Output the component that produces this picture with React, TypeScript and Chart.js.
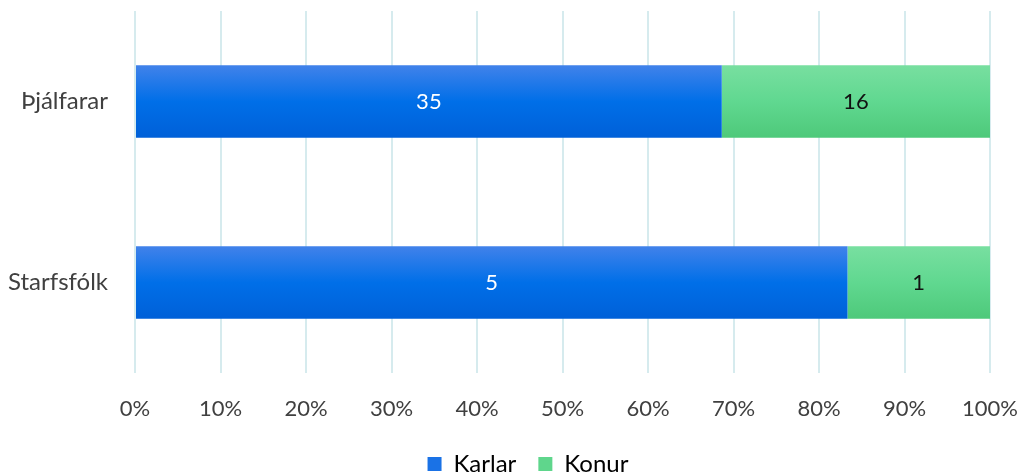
import React, { useEffect, useRef } from "react";
import { Chart, registerables } from "chart.js";

Chart.register(...registerables);

const categories = ["Þjálfarar", "Starfsfólk"];
const karlar = [35, 5];
const konur = [16, 1];
const tickLabels = ["0%", "10%", "20%", "30%", "40%", "50%", "60%", "70%", "80%", "90%", "100%"];

const FONT = "Lato, 'Open Sans', sans-serif";
const TEXT = "#404040";
const BAR_PCT = 0.4;

const totals = karlar.map((k, i) => k + konur[i]);
const karlarPct = karlar.map((k, i) => (k / totals[i]) * 100);
const konurPct = konur.map((k, i) => (k / totals[i]) * 100);

function gradientFor(stops: string[]) {
  return (ctx: any) => {
    const chart = ctx.chart;
    const area = chart.chartArea;
    const y = chart.scales && chart.scales.y;
    if (!area || !y) return stops[1];
    const center = y.getPixelForValue(ctx.dataIndex);
    const half = ((area.bottom - area.top) / categories.length) * BAR_PCT / 2;
    const g = chart.ctx.createLinearGradient(0, center - half, 0, center + half);
    g.addColorStop(0, stops[0]);
    g.addColorStop(0.5, stops[1]);
    g.addColorStop(1, stops[2]);
    return g;
  };
}

const labelPlugin = {
  id: "barLabels",
  afterLayout(chart: any) {
    const L = chart.legend;
    if (L) {
      const dy = 430 - L.top;
      L.top += dy;
      L.bottom += dy;
      L.left += 33;
      L.right += 33;
    }
  },
  afterDatasetsDraw(chart: any) {
    const { ctx } = chart;
    const raw = [karlar, konur];
    const colors = ["#ffffff", "#111111"];
    ctx.save();
    ctx.font = `22px ${FONT}`;
    ctx.textAlign = "center";
    ctx.textBaseline = "middle";
    chart.data.datasets.forEach((_ds: any, di: number) => {
      const meta = chart.getDatasetMeta(di);
      meta.data.forEach((el: any, i: number) => {
        const p = el.getProps(["x", "y", "base"], true);
        ctx.fillStyle = colors[di];
        ctx.fillText(String(raw[di][i]), (p.x + p.base) / 2, p.y);
      });
    });
    ctx.restore();
  },
};

export default function App() {
  const ref = useRef<HTMLCanvasElement | null>(null);
  useEffect(() => {
    if (!ref.current) return;
    const chart = new Chart(ref.current, {
      type: "bar",
      data: {
        labels: categories,
        datasets: [
          {
            label: "Karlar",
            data: karlarPct,
            backgroundColor: gradientFor(["#4182ea", "#006fe8", "#0060d8"]),
            barPercentage: BAR_PCT,
            categoryPercentage: 1,
          },
          {
            label: "Konur",
            data: konurPct,
            backgroundColor: gradientFor(["#78dfa0", "#60d890", "#4ec97a"]),
            barPercentage: BAR_PCT,
            categoryPercentage: 1,
          },
        ],
      },
      options: {
        indexAxis: "y",
        animation: false,
        responsive: true,
        maintainAspectRatio: false,
        layout: { padding: { top: 11, right: 32, bottom: 0, left: 0 } },
        scales: {
          x: {
            stacked: true,
            min: 0,
            max: 100,
            grid: { color: "#d6ebee", lineWidth: 2, drawTicks: false },
            border: { display: false },
            ticks: {
              stepSize: 10,
              padding: 23,
              color: TEXT,
              font: { family: FONT, size: 22 },
              maxRotation: 0,
              autoSkip: false,
              callback: (_v: any, i: number) => tickLabels[i],
            },
            afterFit: (s: any) => {
              const lh = s.chart.legend ? s.chart.legend.height : 40;
              s.height = 101 - lh;
              s.paddingLeft = 0;
              s.paddingRight = 0;
            },
          },
          y: {
            stacked: true,
            grid: { display: false, drawTicks: false },
            border: { display: false },
            ticks: { padding: 27, color: TEXT, font: { family: FONT, size: 24 } },
            afterFit: (s: any) => {
              s.width = 135;
              s.paddingTop = 0;
              s.paddingBottom = 0;
            },
          },
        },
        plugins: {
          tooltip: { enabled: false },
          legend: {
            position: "bottom",
            labels: {
              padding: 22,
              boxWidth: 14,
              boxHeight: 14,
              color: TEXT,
              font: { family: FONT, size: 24 },
              generateLabels: () => [
                { text: "Karlar", fillStyle: "#1a72e6", strokeStyle: "#1a72e6", lineWidth: 0, datasetIndex: 0 },
                { text: "Konur", fillStyle: "#5fd68c", strokeStyle: "#5fd68c", lineWidth: 0, datasetIndex: 1 },
              ],
            },
          },
        },
      },
      plugins: [labelPlugin],
    } as any);
    return () => chart.destroy();
  }, []);
  return (
    <div style={{ position: "fixed", left: 0, top: 0, width: 1022, height: 474, background: "#fff" }}>
      <canvas ref={ref} />
    </div>
  );
}
